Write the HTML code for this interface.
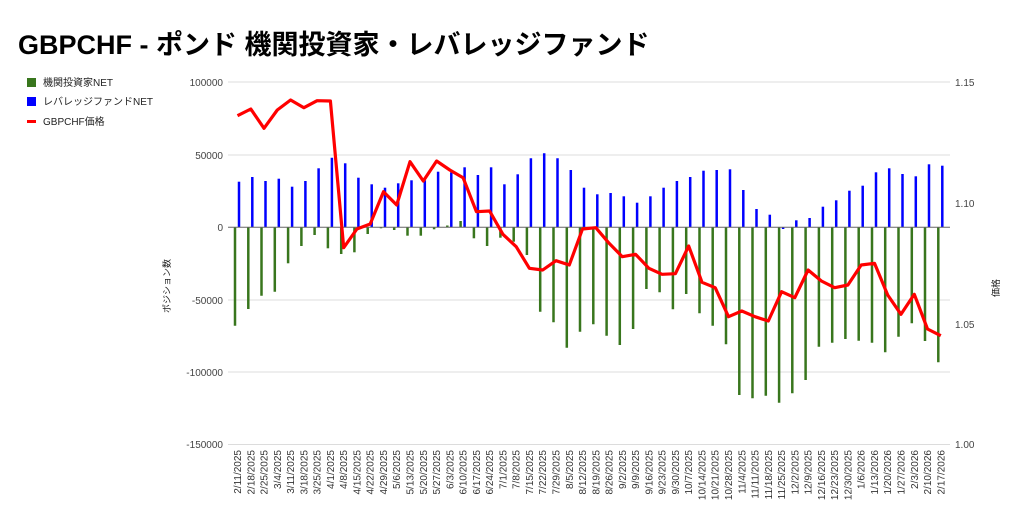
<!DOCTYPE html>
<html><head><meta charset="utf-8"><style>
html,body{margin:0;padding:0;background:#fff;}
svg{display:block;font-family:"Liberation Sans","Noto Sans CJK JP",sans-serif;}
</style></head><body>
<svg width="1024" height="526" viewBox="0 0 1024 526" xmlns="http://www.w3.org/2000/svg">
<text x="18" y="54" font-size="27" font-weight="bold" fill="#000">GBPCHF - ポンド 機関投資家・レバレッジファンド</text>
<rect x="27" y="78" width="9" height="9" fill="#38761d"/>
<text x="43" y="86" font-size="10" fill="#222">機関投資家NET</text>
<rect x="27" y="97" width="9" height="9" fill="#0000ff"/>
<text x="43" y="105" font-size="10" fill="#222">レバレッジファンドNET</text>
<rect x="27" y="120" width="9" height="3" fill="#ff0000"/>
<text x="43" y="125" font-size="10" fill="#222">GBPCHF価格</text>
<g stroke="#dcdcdc" stroke-width="1">
<line x1="228" y1="82" x2="950" y2="82"/>
<line x1="228" y1="155" x2="950" y2="155"/>
<line x1="228" y1="300" x2="950" y2="300"/>
<line x1="228" y1="372" x2="950" y2="372"/>
<line x1="228" y1="444.5" x2="950" y2="444.5"/>
</g>
<g font-size="10" fill="#444" text-anchor="end">
<text x="223" y="86">100000</text>
<text x="223" y="159">50000</text>
<text x="223" y="231">0</text>
<text x="223" y="304">-50000</text>
<text x="223" y="376">-100000</text>
<text x="223" y="448">-150000</text>
</g>
<g font-size="10" fill="#444">
<text x="955" y="86">1.15</text>
<text x="955" y="207">1.10</text>
<text x="955" y="328">1.05</text>
<text x="955" y="448">1.00</text>
</g>
<text transform="translate(170,286) rotate(-90)" font-size="9" fill="#222" text-anchor="middle">ポジション数</text>
<text transform="translate(999,288) rotate(-90)" font-size="9" fill="#222" text-anchor="middle">価格</text>
<g stroke="#38761d" stroke-width="2.5">
<line x1="235.0" y1="227" x2="235.0" y2="325.7"/>
<line x1="248.3" y1="227" x2="248.3" y2="309"/>
<line x1="261.5" y1="227" x2="261.5" y2="295.7"/>
<line x1="274.8" y1="227" x2="274.8" y2="291.7"/>
<line x1="288.1" y1="227" x2="288.1" y2="263.3"/>
<line x1="301.4" y1="227" x2="301.4" y2="246"/>
<line x1="314.6" y1="227" x2="314.6" y2="235"/>
<line x1="327.9" y1="227" x2="327.9" y2="248.3"/>
<line x1="341.2" y1="227" x2="341.2" y2="254"/>
<line x1="354.4" y1="227" x2="354.4" y2="252.3"/>
<line x1="367.7" y1="227" x2="367.7" y2="234"/>
<line x1="381.0" y1="227" x2="381.0" y2="228.3"/>
<line x1="394.2" y1="227" x2="394.2" y2="230"/>
<line x1="407.5" y1="227" x2="407.5" y2="235.7"/>
<line x1="420.8" y1="227" x2="420.8" y2="235.7"/>
<line x1="434.1" y1="227" x2="434.1" y2="229.3"/>
<line x1="447.3" y1="227" x2="447.3" y2="225.5"/>
<line x1="460.6" y1="227" x2="460.6" y2="221"/>
<line x1="473.9" y1="227" x2="473.9" y2="238.3"/>
<line x1="487.1" y1="227" x2="487.1" y2="246"/>
<line x1="500.4" y1="227" x2="500.4" y2="237.7"/>
<line x1="513.7" y1="227" x2="513.7" y2="241.7"/>
<line x1="526.9" y1="227" x2="526.9" y2="255"/>
<line x1="540.2" y1="227" x2="540.2" y2="311.7"/>
<line x1="553.5" y1="227" x2="553.5" y2="322.3"/>
<line x1="566.8" y1="227" x2="566.8" y2="347.7"/>
<line x1="580.0" y1="227" x2="580.0" y2="331.7"/>
<line x1="593.3" y1="227" x2="593.3" y2="324.3"/>
<line x1="606.6" y1="227" x2="606.6" y2="335.7"/>
<line x1="619.8" y1="227" x2="619.8" y2="345"/>
<line x1="633.1" y1="227" x2="633.1" y2="329"/>
<line x1="646.4" y1="227" x2="646.4" y2="289"/>
<line x1="659.6" y1="227" x2="659.6" y2="292.3"/>
<line x1="672.9" y1="227" x2="672.9" y2="309.3"/>
<line x1="686.2" y1="227" x2="686.2" y2="294"/>
<line x1="699.5" y1="227" x2="699.5" y2="313.3"/>
<line x1="712.7" y1="227" x2="712.7" y2="325.7"/>
<line x1="726.0" y1="227" x2="726.0" y2="344.3"/>
<line x1="739.3" y1="227" x2="739.3" y2="395"/>
<line x1="752.5" y1="227" x2="752.5" y2="398.3"/>
<line x1="765.8" y1="227" x2="765.8" y2="395.7"/>
<line x1="779.1" y1="227" x2="779.1" y2="402.7"/>
<line x1="792.3" y1="227" x2="792.3" y2="393.3"/>
<line x1="805.6" y1="227" x2="805.6" y2="380"/>
<line x1="818.9" y1="227" x2="818.9" y2="346.7"/>
<line x1="832.2" y1="227" x2="832.2" y2="342.7"/>
<line x1="845.4" y1="227" x2="845.4" y2="339"/>
<line x1="858.7" y1="227" x2="858.7" y2="340.7"/>
<line x1="872.0" y1="227" x2="872.0" y2="342.7"/>
<line x1="885.2" y1="227" x2="885.2" y2="352.3"/>
<line x1="898.5" y1="227" x2="898.5" y2="336.7"/>
<line x1="911.8" y1="227" x2="911.8" y2="323.3"/>
<line x1="925.0" y1="227" x2="925.0" y2="341"/>
<line x1="938.3" y1="227" x2="938.3" y2="362.3"/>
</g>
<g stroke="#0000ff" stroke-width="2.5">
<line x1="239.0" y1="227" x2="239.0" y2="181.7"/>
<line x1="252.3" y1="227" x2="252.3" y2="177"/>
<line x1="265.5" y1="227" x2="265.5" y2="181"/>
<line x1="278.8" y1="227" x2="278.8" y2="178.7"/>
<line x1="292.1" y1="227" x2="292.1" y2="186.7"/>
<line x1="305.4" y1="227" x2="305.4" y2="181"/>
<line x1="318.6" y1="227" x2="318.6" y2="168.3"/>
<line x1="331.9" y1="227" x2="331.9" y2="157.7"/>
<line x1="345.2" y1="227" x2="345.2" y2="163.3"/>
<line x1="358.4" y1="227" x2="358.4" y2="177.7"/>
<line x1="371.7" y1="227" x2="371.7" y2="184.3"/>
<line x1="385.0" y1="227" x2="385.0" y2="187.7"/>
<line x1="398.2" y1="227" x2="398.2" y2="183.3"/>
<line x1="411.5" y1="227" x2="411.5" y2="180.3"/>
<line x1="424.8" y1="227" x2="424.8" y2="180.3"/>
<line x1="438.1" y1="227" x2="438.1" y2="171.7"/>
<line x1="451.3" y1="227" x2="451.3" y2="172.3"/>
<line x1="464.6" y1="227" x2="464.6" y2="167.3"/>
<line x1="477.9" y1="227" x2="477.9" y2="175"/>
<line x1="491.1" y1="227" x2="491.1" y2="167.3"/>
<line x1="504.4" y1="227" x2="504.4" y2="184.3"/>
<line x1="517.7" y1="227" x2="517.7" y2="174.3"/>
<line x1="530.9" y1="227" x2="530.9" y2="158.3"/>
<line x1="544.2" y1="227" x2="544.2" y2="153.3"/>
<line x1="557.5" y1="227" x2="557.5" y2="158.3"/>
<line x1="570.8" y1="227" x2="570.8" y2="170"/>
<line x1="584.0" y1="227" x2="584.0" y2="187.7"/>
<line x1="597.3" y1="227" x2="597.3" y2="194.3"/>
<line x1="610.6" y1="227" x2="610.6" y2="193"/>
<line x1="623.8" y1="227" x2="623.8" y2="196.3"/>
<line x1="637.1" y1="227" x2="637.1" y2="202.7"/>
<line x1="650.4" y1="227" x2="650.4" y2="196.3"/>
<line x1="663.6" y1="227" x2="663.6" y2="187.7"/>
<line x1="676.9" y1="227" x2="676.9" y2="181"/>
<line x1="690.2" y1="227" x2="690.2" y2="177"/>
<line x1="703.5" y1="227" x2="703.5" y2="170.7"/>
<line x1="716.7" y1="227" x2="716.7" y2="170"/>
<line x1="730.0" y1="227" x2="730.0" y2="169.3"/>
<line x1="743.3" y1="227" x2="743.3" y2="190"/>
<line x1="756.5" y1="227" x2="756.5" y2="209"/>
<line x1="769.8" y1="227" x2="769.8" y2="214.7"/>
<line x1="783.1" y1="227" x2="783.1" y2="229"/>
<line x1="796.3" y1="227" x2="796.3" y2="220.3"/>
<line x1="809.6" y1="227" x2="809.6" y2="218"/>
<line x1="822.9" y1="227" x2="822.9" y2="206.7"/>
<line x1="836.2" y1="227" x2="836.2" y2="200.3"/>
<line x1="849.4" y1="227" x2="849.4" y2="190.7"/>
<line x1="862.7" y1="227" x2="862.7" y2="185.7"/>
<line x1="876.0" y1="227" x2="876.0" y2="172.3"/>
<line x1="889.2" y1="227" x2="889.2" y2="168.3"/>
<line x1="902.5" y1="227" x2="902.5" y2="174"/>
<line x1="915.8" y1="227" x2="915.8" y2="176.3"/>
<line x1="929.0" y1="227" x2="929.0" y2="164.3"/>
<line x1="942.3" y1="227" x2="942.3" y2="165.7"/>
</g>
<line x1="228" y1="227.3" x2="950" y2="227.3" stroke="#666" stroke-width="1"/>
<polyline fill="none" stroke="#ff0000" stroke-width="3.2" stroke-linejoin="round" points="237.5,115.7 250.8,109 264,128.3 277.3,110 290.6,100 303.9,107.7 317.1,100.7 330.4,101 343.7,247.7 356.9,229 370.2,224 383.5,191.7 396.7,205 410,161.7 423.3,181 436.6,161 449.8,170 463.1,177.7 476.4,211.7 489.6,211 502.9,234.3 516.2,246.7 529.4,268.3 542.7,270 556,260.7 569.3,265 582.5,229 595.8,227.7 609.1,243.3 622.3,256.7 635.6,254.3 648.9,268.3 662.1,274.3 675.4,273.7 688.7,246 702,282.3 715.2,287.7 728.5,316.7 741.8,311 755,316.7 768.3,321 781.6,291.7 794.8,297.7 808.1,270 821.4,281 834.7,287.7 847.9,285 861.2,265 874.5,263.3 887.7,295 901,314.3 914.3,294.3 927.5,329 940.8,335.7"/>
<g font-size="10" fill="#333" text-anchor="end">
<text transform="translate(241,450) rotate(-90)">2/11/2025</text>
<text transform="translate(254.3,450) rotate(-90)">2/18/2025</text>
<text transform="translate(267.5,450) rotate(-90)">2/25/2025</text>
<text transform="translate(280.8,450) rotate(-90)">3/4/2025</text>
<text transform="translate(294.1,450) rotate(-90)">3/11/2025</text>
<text transform="translate(307.4,450) rotate(-90)">3/18/2025</text>
<text transform="translate(320.6,450) rotate(-90)">3/25/2025</text>
<text transform="translate(333.9,450) rotate(-90)">4/1/2025</text>
<text transform="translate(347.2,450) rotate(-90)">4/8/2025</text>
<text transform="translate(360.4,450) rotate(-90)">4/15/2025</text>
<text transform="translate(373.7,450) rotate(-90)">4/22/2025</text>
<text transform="translate(387,450) rotate(-90)">4/29/2025</text>
<text transform="translate(400.2,450) rotate(-90)">5/6/2025</text>
<text transform="translate(413.5,450) rotate(-90)">5/13/2025</text>
<text transform="translate(426.8,450) rotate(-90)">5/20/2025</text>
<text transform="translate(440.1,450) rotate(-90)">5/27/2025</text>
<text transform="translate(453.3,450) rotate(-90)">6/3/2025</text>
<text transform="translate(466.6,450) rotate(-90)">6/10/2025</text>
<text transform="translate(479.9,450) rotate(-90)">6/17/2025</text>
<text transform="translate(493.1,450) rotate(-90)">6/24/2025</text>
<text transform="translate(506.4,450) rotate(-90)">7/1/2025</text>
<text transform="translate(519.7,450) rotate(-90)">7/8/2025</text>
<text transform="translate(532.9,450) rotate(-90)">7/15/2025</text>
<text transform="translate(546.2,450) rotate(-90)">7/22/2025</text>
<text transform="translate(559.5,450) rotate(-90)">7/29/2025</text>
<text transform="translate(572.8,450) rotate(-90)">8/5/2025</text>
<text transform="translate(586,450) rotate(-90)">8/12/2025</text>
<text transform="translate(599.3,450) rotate(-90)">8/19/2025</text>
<text transform="translate(612.6,450) rotate(-90)">8/26/2025</text>
<text transform="translate(625.8,450) rotate(-90)">9/2/2025</text>
<text transform="translate(639.1,450) rotate(-90)">9/9/2025</text>
<text transform="translate(652.4,450) rotate(-90)">9/16/2025</text>
<text transform="translate(665.6,450) rotate(-90)">9/23/2025</text>
<text transform="translate(678.9,450) rotate(-90)">9/30/2025</text>
<text transform="translate(692.2,450) rotate(-90)">10/7/2025</text>
<text transform="translate(705.5,450) rotate(-90)">10/14/2025</text>
<text transform="translate(718.7,450) rotate(-90)">10/21/2025</text>
<text transform="translate(732,450) rotate(-90)">10/28/2025</text>
<text transform="translate(745.3,450) rotate(-90)">11/4/2025</text>
<text transform="translate(758.5,450) rotate(-90)">11/11/2025</text>
<text transform="translate(771.8,450) rotate(-90)">11/18/2025</text>
<text transform="translate(785.1,450) rotate(-90)">11/25/2025</text>
<text transform="translate(798.3,450) rotate(-90)">12/2/2025</text>
<text transform="translate(811.6,450) rotate(-90)">12/9/2025</text>
<text transform="translate(824.9,450) rotate(-90)">12/16/2025</text>
<text transform="translate(838.2,450) rotate(-90)">12/23/2025</text>
<text transform="translate(851.4,450) rotate(-90)">12/30/2025</text>
<text transform="translate(864.7,450) rotate(-90)">1/6/2026</text>
<text transform="translate(878,450) rotate(-90)">1/13/2026</text>
<text transform="translate(891.2,450) rotate(-90)">1/20/2026</text>
<text transform="translate(904.5,450) rotate(-90)">1/27/2026</text>
<text transform="translate(917.8,450) rotate(-90)">2/3/2026</text>
<text transform="translate(931,450) rotate(-90)">2/10/2026</text>
<text transform="translate(944.3,450) rotate(-90)">2/17/2026</text>
</g>
</svg>
</body></html>
